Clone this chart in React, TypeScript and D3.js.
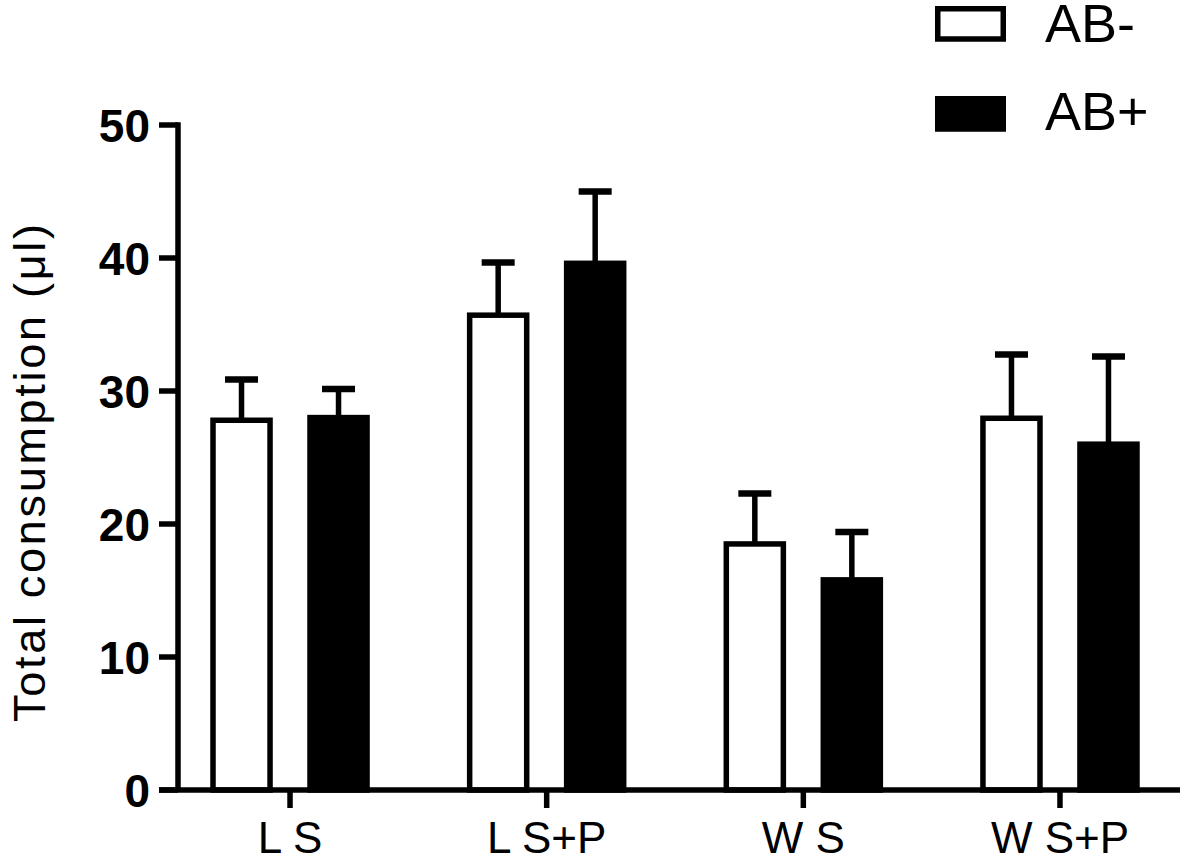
import React from "react";
import * as d3 from "d3";

const categories = ["L S", "L S+P", "W S", "W S+P"];
const seriesNames = ["AB-", "AB+"];
const abMinus = [27.8, 35.7, 18.5, 27.95];
const abMinusErr = [3.06, 3.96, 3.8, 4.8];
const abPlus = [28.0, 39.6, 15.8, 26.0];
const abPlusErr = [2.15, 5.4, 3.6, 6.6];
const yTicks = [0, 10, 20, 30, 40, 50];

const W = 1181;
const H = 858;
const FONT = "'Liberation Sans', Arial, Helvetica, sans-serif";
const SW = 5.5;

export default function App() {
  const x0 = d3.scaleBand<string>().domain(categories).range([161.7, 1188.3]).padding(0);
  const x1 = d3
    .scaleBand<string>()
    .domain(seriesNames)
    .range([-97, 97])
    .paddingInner(0.412)
    .paddingOuter(0.206);
  const y = d3.scaleLinear().domain([0, 50]).range([790, 125]);

  const series = [
    { name: "AB-", values: abMinus, errs: abMinusErr, fill: "#fff" },
    { name: "AB+", values: abPlus, errs: abPlusErr, fill: "#000" },
  ];
  const axisX = 178;
  const capW = 33;

  return (
    <svg
      width={W}
      height={H}
      style={{ position: "absolute", left: 0, top: 0, background: "#fff" }}
      fontFamily={FONT}
    >
      <rect x={0} y={0} width={W} height={H} fill="#fff" />
      {/* bars */}
      {series.map((s) =>
        categories.map((c, i) => {
          const cx = (x0(c) as number) + x0.bandwidth() / 2;
          const bx = cx + (x1(s.name) as number);
          const bw = x1.bandwidth();
          const cxBar = bx + bw / 2;
          const yTop = y(s.values[i]);
          const yErr = y(s.values[i] + s.errs[i]);
          return (
            <g key={s.name + c}>
              <line x1={cxBar} x2={cxBar} y1={yTop} y2={yErr} stroke="#000" strokeWidth={SW} />
              <line x1={cxBar - capW / 2} x2={cxBar + capW / 2} y1={yErr} y2={yErr} stroke="#000" strokeWidth={6.5} />
              <rect
                x={bx}
                y={yTop}
                width={bw}
                height={y(0) - yTop}
                fill={s.fill}
                stroke="#000"
                strokeWidth={SW}
              />
            </g>
          );
        })
      )}
      {/* y axis */}
      <line x1={axisX} x2={axisX} y1={y(50) - SW / 2} y2={y(0)} stroke="#000" strokeWidth={SW} />
      {yTicks.map((t) => (
        <g key={t}>
          <line x1={159} x2={axisX} y1={y(t)} y2={y(t)} stroke="#000" strokeWidth={SW} />
          <text
            x={150}
            y={y(t)}
            dy="0.36em"
            textAnchor="end"
            fontSize={46}
            fontWeight="bold"
            fill="#000"
          >
            {t}
          </text>
        </g>
      ))}
      {/* x axis */}
      <line x1={159} x2={1180} y1={y(0)} y2={y(0)} stroke="#000" strokeWidth={SW} />
      {categories.map((c) => {
        const cx = (x0(c) as number) + x0.bandwidth() / 2;
        return (
          <g key={c}>
            <line x1={cx} x2={cx} y1={y(0)} y2={808} stroke="#000" strokeWidth={SW} />
            <text x={cx} y={853} textAnchor="middle" fontSize={44} fill="#000">
              {c}
            </text>
          </g>
        );
      })}
      {/* y axis title */}
      <text
        transform={`translate(45, 473) rotate(-90)`}
        textAnchor="middle"
        fontSize={45}
        textLength={498}
        lengthAdjust="spacing"
        fill="#000"
      >
        Total consumption (μl)
      </text>
      {/* legend */}
      <rect x={937.75} y={8.75} width={65.5} height={30.25} fill="#fff" stroke="#000" strokeWidth={SW} />
      <text x={1045} y={41.7} fontSize={54} fill="#000">
        {seriesNames[0]}
      </text>
      <rect x={937.75} y={98.75} width={65.5} height={30.25} fill="#000" stroke="#000" strokeWidth={SW} />
      <text x={1045} y={130} fontSize={54} fill="#000">
        {seriesNames[1]}
      </text>
    </svg>
  );
}
